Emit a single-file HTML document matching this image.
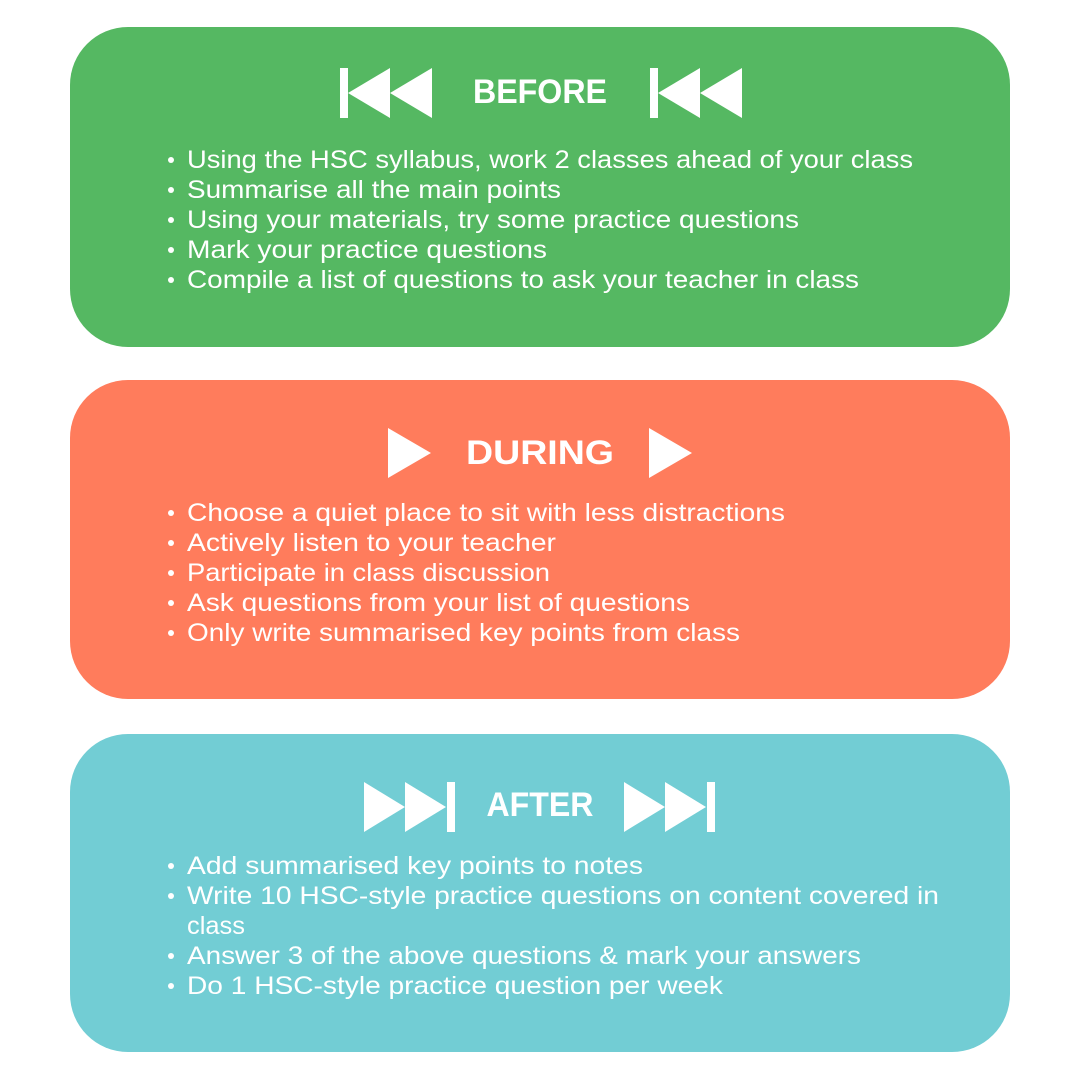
<!DOCTYPE html>
<html><head><meta charset="utf-8"><style>html,body{margin:0;padding:0;background:#fff}svg{display:block}</style></head>
<body>
<svg width="1080" height="1080" viewBox="0 0 1080 1080" xmlns="http://www.w3.org/2000/svg" font-family="Liberation Sans, sans-serif" fill="#fff">
<rect x="0" y="0" width="1080" height="1080" fill="#fff"/>
<rect x="70" y="27" width="940" height="320" rx="58" fill="#55b862"/>
<rect x="70" y="380" width="940" height="319" rx="58" fill="#ff7c5c"/>
<rect x="70" y="734" width="940" height="318" rx="58" fill="#72cdd4"/>

<!-- BEFORE icons -->
<rect x="340" y="68" width="8" height="50"/>
<polygon points="348,93 390,68 390,118"/>
<polygon points="390,93 432,68 432,118"/>
<rect x="650" y="68" width="8" height="50"/>
<polygon points="658,93 700,68 700,118"/>
<polygon points="700,93 742,68 742,118"/>
<text x="540" y="103" text-anchor="middle" font-weight="bold" font-size="34" textLength="134" lengthAdjust="spacingAndGlyphs">BEFORE</text>

<!-- DURING icons -->
<polygon points="388,428 431,453 388,478"/>
<polygon points="649,428 692,453 649,478"/>
<text x="540" y="464" text-anchor="middle" font-weight="bold" font-size="34" textLength="148" lengthAdjust="spacingAndGlyphs">DURING</text>

<!-- AFTER icons -->
<polygon points="364,782 405,807 364,832"/>
<polygon points="405,782 446,807 405,832"/>
<rect x="447" y="782" width="8" height="50"/>
<polygon points="624,782 665,807 624,832"/>
<polygon points="665,782 706,807 665,832"/>
<rect x="707" y="782" width="8" height="50"/>
<text x="540" y="816" text-anchor="middle" font-weight="bold" font-size="34" textLength="107" lengthAdjust="spacingAndGlyphs">AFTER</text>

<g font-size="25">
<g>
<circle cx="171" cy="160" r="3"/><text x="187" y="168" textLength="726" lengthAdjust="spacingAndGlyphs">Using the HSC syllabus, work 2 classes ahead of your class</text>
<circle cx="171" cy="190" r="3"/><text x="187" y="198" textLength="374" lengthAdjust="spacingAndGlyphs">Summarise all the main points</text>
<circle cx="171" cy="220" r="3"/><text x="187" y="228" textLength="612" lengthAdjust="spacingAndGlyphs">Using your materials, try some practice questions</text>
<circle cx="171" cy="250" r="3"/><text x="187" y="258" textLength="360" lengthAdjust="spacingAndGlyphs">Mark your practice questions</text>
<circle cx="171" cy="280" r="3"/><text x="187" y="288" textLength="672" lengthAdjust="spacingAndGlyphs">Compile a list of questions to ask your teacher in class</text>
</g>
<g>
<circle cx="171" cy="513" r="3"/><text x="187" y="521" textLength="598" lengthAdjust="spacingAndGlyphs">Choose a quiet place to sit with less distractions</text>
<circle cx="171" cy="543" r="3"/><text x="187" y="551" textLength="369" lengthAdjust="spacingAndGlyphs">Actively listen to your teacher</text>
<circle cx="171" cy="573" r="3"/><text x="187" y="581" textLength="363" lengthAdjust="spacingAndGlyphs">Participate in class discussion</text>
<circle cx="171" cy="603" r="3"/><text x="187" y="611" textLength="503" lengthAdjust="spacingAndGlyphs">Ask questions from your list of questions</text>
<circle cx="171" cy="633" r="3"/><text x="187" y="641" textLength="553" lengthAdjust="spacingAndGlyphs">Only write summarised key points from class</text>
</g>
<g>
<circle cx="171" cy="866" r="3"/><text x="187" y="874" textLength="456" lengthAdjust="spacingAndGlyphs">Add summarised key points to notes</text>
<circle cx="171" cy="896" r="3"/><text x="187" y="904" textLength="752" lengthAdjust="spacingAndGlyphs">Write 10 HSC-style practice questions on content covered in</text>
<text x="187" y="934" textLength="58" lengthAdjust="spacingAndGlyphs">class</text>
<circle cx="171" cy="956" r="3"/><text x="187" y="964" textLength="674" lengthAdjust="spacingAndGlyphs">Answer 3 of the above questions &amp; mark your answers</text>
<circle cx="171" cy="986" r="3"/><text x="187" y="994" textLength="536" lengthAdjust="spacingAndGlyphs">Do 1 HSC-style practice question per week</text>
</g>
</g>
</svg>
</body></html>
